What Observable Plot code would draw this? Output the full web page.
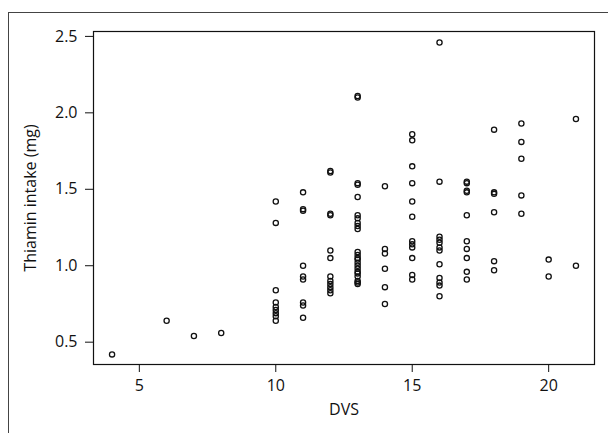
<!DOCTYPE html>
<html>
<head>
<meta charset="utf-8">
<script src="https://cdn.jsdelivr.net/npm/d3@7"></script>
<script src="https://cdn.jsdelivr.net/npm/@observablehq/plot@0.6"></script>
<style>
  html, body { margin: 0; padding: 0; background: #fff; }
  #wrap { position: relative; width: 608px; height: 433px; overflow: hidden; }
  #border { position: absolute; left: 8px; top: 12px; width: 620px; height: 440px;
            border-left: 1px solid #444; border-top: 1px solid #444; }
  #chart { position: absolute; left: 0; top: 0; }
</style>
</head>
<body>
<div id="wrap"><div id="border"></div><div id="chart"></div></div>
<script>
// DVS levels and thiamin intake (mg) values read per level
const dvsLevels = [4, 6, 7, 8, 10, 11, 12, 13, 14, 15, 16, 17, 18, 19, 20, 21];
const thiaminByLevel = [
  [0.42],
  [0.64],
  [0.54],
  [0.56],
  [1.42, 1.28, 0.84, 0.76, 0.73, 0.71, 0.69, 0.67, 0.64],
  [1.48, 1.37, 1.36, 1.00, 0.93, 0.91, 0.76, 0.74, 0.66],
  [1.62, 1.61, 1.34, 1.33, 1.10, 1.05, 0.93, 0.90, 0.88, 0.86, 0.84, 0.82],
  [2.11, 2.10, 1.54, 1.53, 1.45, 1.33, 1.31, 1.28, 1.26, 1.24,
   1.09, 1.07, 1.05, 1.04, 1.02, 1.00, 0.98, 0.96, 0.95, 0.93, 0.90, 0.89, 0.88],
  [1.52, 1.11, 1.08, 0.98, 0.86, 0.75],
  [1.86, 1.82, 1.65, 1.54, 1.42, 1.32, 1.16, 1.14, 1.12, 1.05, 0.94, 0.91],
  [2.46, 1.55, 1.19, 1.17, 1.15, 1.12, 1.10, 1.01, 0.92, 0.89, 0.87, 0.80],
  [1.55, 1.54, 1.49, 1.48, 1.33, 1.16, 1.11, 1.05, 0.96, 0.91],
  [1.89, 1.48, 1.47, 1.35, 1.03, 0.97],
  [1.93, 1.81, 1.70, 1.46, 1.34],
  [1.04, 0.93],
  [1.96, 1.00]
];
const xTicks = [5, 10, 15, 20];
const yTicks = [0.5, 1.0, 1.5, 2.0, 2.5];
const xLabel = "DVS";
const yLabel = "Thiamin intake (mg)";

const points = dvsLevels.flatMap((d, i) => thiaminByLevel[i].map(v => ({dvs: d, thiamin: v})));

const chart = Plot.plot({
  width: 608,
  height: 433,
  marginLeft: 93,
  marginRight: 14,
  marginTop: 31,
  marginBottom: 69,
  style: {fontFamily: "'Open Sans', sans-serif", fontSize: "15px", color: "#111", background: "transparent"},
  x: {domain: [3.32, 21.68]},
  y: {domain: [0.354, 2.532]},
  marks: [
    Plot.frame({stroke: "#111", strokeWidth: 1.2}),
    Plot.axisX({ticks: xTicks, tickSize: 8, tickPadding: 7, fontSize: 16,
      label: xLabel, labelAnchor: "center", labelArrow: "none", labelOffset: 50}),
    Plot.axisY({ticks: yTicks, tickSize: 8, tickPadding: 8, fontSize: 16, tickFormat: d3.format(".1f"),
      label: yLabel, labelAnchor: "center", labelArrow: "none", labelOffset: 69}),
    Plot.dot(points, {x: "dvs", y: "thiamin", r: 2.6, stroke: "#111", strokeWidth: 1.3, fill: "none"})
  ]
});
document.getElementById("chart").appendChild(chart);
</script>
</body>
</html>
